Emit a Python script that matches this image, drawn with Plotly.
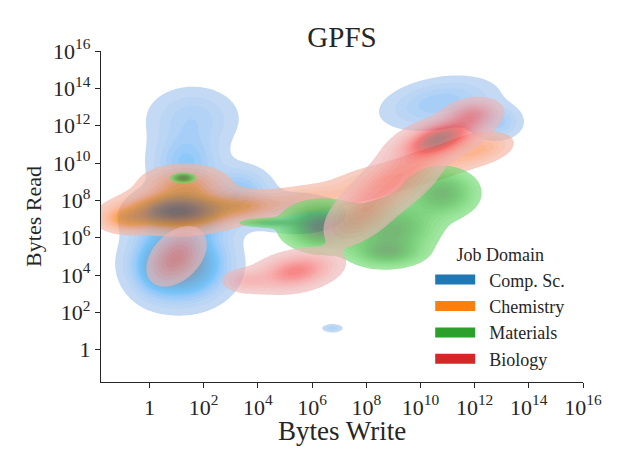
import math

import numpy as np
import plotly.graph_objects as go

# job domains, drawn in this order (later ones on top)
domains = ["Comp. Sc.", "Chemistry", "Materials", "Biology"]
domain_colors = ["#1f77b4", "#ff7f0e", "#2ca02c", "#d62728"]

# KDE shape of each domain, read off the picture as gaussian blobs in log10 space:
# (log10 bytes write, log10 bytes read, sd write, sd read, corr, weight)
comp_sc_blobs = [
    (1.15, 4.6, 0.95, 1.1, 0.0, 0.30),
    (0.2, 4.4, 0.5, 0.9, 0.0, 0.025),
    (1.2, 7.2, 1.0, 0.8, 0.0, 0.15),
    (1.35, 10.0, 0.75, 1.0, 0.0, 0.065),
    (1.6, 12.4, 1.0, 1.0, 0.0, 0.05),
    (3.3, 8.4, 0.7, 0.8, 0.0, 0.05),
    (5.4, 7.3, 1.0, 0.6, 0.0, 0.04),
    (10.7, 13.2, 1.2, 0.8, 0.3, 0.062),
    (12.8, 12.2, 0.55, 0.55, 0.0, 0.02),
    (6.75, 1.15, 0.22, 0.13, 0.0, 0.0015),
]
chemistry_blobs = [
    (1.0, 7.4, 1.1, 0.55, 0.0, 0.40),
    (1.3, 8.8, 0.9, 0.6, 0.0, 0.12),
    (-0.9, 7.0, 0.55, 0.4, 0.0, 0.05),
    (3.5, 7.7, 0.9, 0.45, 0.0, 0.08),
    (5.8, 8.1, 1.0, 0.45, 0.2, 0.05),
    (8.3, 9.0, 1.1, 0.6, 0.5, 0.07),
    (10.6, 10.0, 1.0, 0.6, 0.5, 0.07),
    (12.2, 10.8, 0.7, 0.5, 0.3, 0.05),
]
materials_blobs = [
    (1.25, 9.2, 0.22, 0.13, 0.0, 0.012),
    (4.4, 6.8, 0.6, 0.14, 0.0, 0.015),
    (6.4, 6.6, 0.75, 0.65, 0.0, 0.25),
    (9.0, 6.4, 0.9, 0.9, 0.2, 0.25),
    (10.8, 8.4, 0.7, 0.7, 0.0, 0.15),
    (8.8, 5.2, 0.7, 0.4, 0.0, 0.06),
]
biology_blobs = [
    (1.0, 5.0, 0.55, 0.8, 0.4, 0.07),
    (5.4, 4.2, 0.8, 0.55, 0.3, 0.13),
    (3.6, 3.7, 0.5, 0.35, 0.0, 0.02),
    (7.8, 7.3, 0.7, 0.9, 0.5, 0.08),
    (9.2, 9.2, 0.9, 1.1, 0.6, 0.14),
    (10.7, 11.3, 0.8, 0.6, 0.5, 0.22),
    (11.9, 12.6, 0.55, 0.45, 0.2, 0.05),
]
domain_blobs = [comp_sc_blobs, chemistry_blobs, materials_blobs, biology_blobs]

tick_exponents = [0, 2, 4, 6, 8, 10, 12, 14, 16]
x_range = [-1.79, 16]
y_range = [-1.73, 16]

N_BANDS = 20
THRESH = 0.05
ALPHA = 0.65
FONT = "Liberation Serif"
TEXT_COLOR = "#262626"

# --- husl colour ramp, same idea as seaborn's single-colour kde cmap ---
M = [[3.2406, -1.5372, -0.4986], [-0.9689, 1.8758, 0.0415], [0.0557, -0.2040, 1.0570]]
M_INV = [[0.4124, 0.3576, 0.1805], [0.2126, 0.7152, 0.0722], [0.0193, 0.1192, 0.9505]]
REF_U, REF_V = 0.19784, 0.46834
LAB_E, LAB_K = 0.008856, 903.3


def max_chroma(L, H):
    hrad = math.radians(H)
    sin_h, cos_h = math.sin(hrad), math.cos(hrad)
    sub1 = (L + 16) ** 3 / 1560896.0
    sub2 = sub1 if sub1 > LAB_E else L / LAB_K
    result = float("inf")
    for m1, m2, m3 in M:
        top = (0.99915 * m1 + 1.05122 * m2 + 1.14460 * m3) * sub2
        rbottom = 0.86330 * m3 - 0.17266 * m2
        lbottom = 0.12949 * m3 - 0.38848 * m1
        bottom = (rbottom * sin_h + lbottom * cos_h) * sub2
        for t in (0.0, 1.0):
            c = L * (top - 1.05122 * t) / (bottom + 0.17266 * sin_h * t)
            if 0.0 < c < result:
                result = c
    return result


def rgb_to_husl(r, g, b):
    lin = [((c + 0.055) / 1.055) ** 2.4 if c > 0.04045 else c / 12.92 for c in (r, g, b)]
    X, Y, Z = [sum(m * c for m, c in zip(row, lin)) for row in M_INV]
    den = X + 15 * Y + 3 * Z
    var_u, var_v = 4 * X / den, 9 * Y / den
    L = 116 * (Y ** (1 / 3) if Y > LAB_E else 7.787 * Y + 16 / 116) - 16
    U = 13 * L * (var_u - REF_U)
    V = 13 * L * (var_v - REF_V)
    H = math.degrees(math.atan2(V, U)) % 360
    S = math.hypot(U, V) / max_chroma(L, H) * 100
    return H, S, L


def husl_to_rgb(H, S, L):
    C = max_chroma(L, H) / 100 * S
    U, V = C * math.cos(math.radians(H)), C * math.sin(math.radians(H))
    t = (L + 16) / 116
    var_y = t ** 3 if t ** 3 > LAB_E else L / LAB_K
    var_u = U / (13 * L) + REF_U
    var_v = V / (13 * L) + REF_V
    Y = var_y
    X = -(9 * Y * var_u) / ((var_u - 4) * var_v - var_u * var_v)
    Z = (9 * Y - 15 * var_v * Y - var_v * X) / (3 * var_v)
    out = []
    for row in M:
        c = sum(m * v for m, v in zip(row, (X, Y, Z)))
        c = 12.92 * c if c <= 0.0031308 else 1.055 * c ** (1 / 2.4) - 0.055
        out.append(min(max(c, 0.0), 1.0))
    return out


def ramp_colors(hex_color):
    r, g, b = [int(hex_color[i:i + 2], 16) / 255 for i in (1, 3, 5)]
    h, s, _ = rgb_to_husl(r, g, b)
    xx = np.linspace(-1, 1, int(1.15 * 256))[:256]
    sat = s * np.cos(xx)
    light = np.linspace(35, 80, 256)
    cols = [husl_to_rgb(h, sat[i], light[i]) for i in range(256)]
    return cols[::-1]  # light -> dark


def band_colorscale(hex_color):
    cols = ramp_colors(hex_color)
    scale = [[0.0, "rgba(255,255,255,0)"]]
    last = None
    for k in range(N_BANDS):
        c = cols[int(round((k + 0.5) / N_BANDS * 255))]
        last = "rgb({:.0f},{:.0f},{:.0f})".format(*[v * 255 for v in c])
        scale.append([(k + 1) / (N_BANDS + 1), last])
    scale.append([1.0, last])
    return scale


def blob_density(blobs, gx, gy):
    X, Y = np.meshgrid(gx, gy)
    z = np.zeros_like(X)
    for cx, cy, sx, sy, rho, w in blobs:
        dx = (X - cx) / sx
        dy = (Y - cy) / sy
        q = (dx ** 2 - 2 * rho * dx * dy + dy ** 2) / (1 - rho ** 2)
        z += w * np.exp(-0.5 * q) / (2 * np.pi * sx * sy * np.sqrt(1 - rho ** 2))
    return z / z.max()


gx = np.linspace(x_range[0], x_range[1], 260)
gy = np.linspace(y_range[0], y_range[1], 260)

fig = go.Figure()
for name, color, blobs in zip(domains, domain_colors, domain_blobs):
    z = blob_density(blobs, gx, gy)
    # lowest level encloses 95% of the mass (seaborn thresh=0.05)
    flat = np.sort(z.ravel())
    cum = np.cumsum(flat)
    cum /= cum[-1]
    lo = flat[np.searchsorted(cum, THRESH)]
    fig.add_trace(
        go.Contour(
            x=10 ** gx,
            y=10 ** gy,
            z=z,
            autocontour=False,
            contours=dict(start=lo, end=1.0, size=(1.0 - lo) / N_BANDS,
                          coloring="fill", showlines=False),
            line=dict(width=0),
            colorscale=band_colorscale(color),
            showscale=False,
            opacity=ALPHA,
            hoverinfo="skip",
            showlegend=False,
        )
    )

# legend patches (nbsp pushes the label away from the patch)
for name, color in zip(domains, domain_colors):
    fig.add_trace(
        go.Scatter(
            x=[None], y=[None], mode="lines", name="\u00a0\u00a0" + name,
            line=dict(color=color, width=12),
        )
    )

tick_vals = [10 ** e for e in tick_exponents]
tick_text = ["1" if e == 0 else f"10<sup>{e}</sup>" for e in tick_exponents]
axis_style = dict(
    type="log",
    tickvals=tick_vals,
    ticktext=tick_text,
    showline=True,
    linecolor=TEXT_COLOR,
    linewidth=1.2,
    ticks="outside",
    ticklen=5,
    tickwidth=1.2,
    tickcolor=TEXT_COLOR,
    showgrid=False,
    zeroline=False,
    automargin=False,
    tickfont=dict(size=22, family=FONT, color=TEXT_COLOR),
)
fig.update_xaxes(range=x_range, **axis_style)
fig.update_yaxes(range=y_range, title=dict(text="Bytes Read", font=dict(size=22), standoff=5), **axis_style)

# x title as an annotation, plotly puts it too low under the superscript ticks
fig.add_annotation(
    text="Bytes Write", x=0.5, y=-0.148, xref="paper", yref="paper",
    xanchor="center", yanchor="middle", showarrow=False,
    font=dict(size=27, family=FONT, color=TEXT_COLOR),
)

# the page body has an 8px margin, so the figure is 8px smaller and shifted margins
fig.update_layout(
    width=609,
    height=445,
    margin=dict(l=93, r=34, t=43, b=71),
    plot_bgcolor="white",
    paper_bgcolor="white",
    font=dict(family=FONT, color=TEXT_COLOR),
    title=dict(text="GPFS", x=0.5, xref="paper", y=1 - 29 / 445, yref="container",
               yanchor="middle", font=dict(size=29, family=FONT, color=TEXT_COLOR)),
    legend=dict(
        x=0.683, y=0.435, xanchor="left", yanchor="top",
        bgcolor="rgba(0,0,0,0)",
        font=dict(size=18, family=FONT, color=TEXT_COLOR),
        title=dict(text="Job Domain", side="top center", font=dict(size=18)),
        tracegroupgap=0,
        itemwidth=40,
    ),
)

fig.write_html("out.html")
